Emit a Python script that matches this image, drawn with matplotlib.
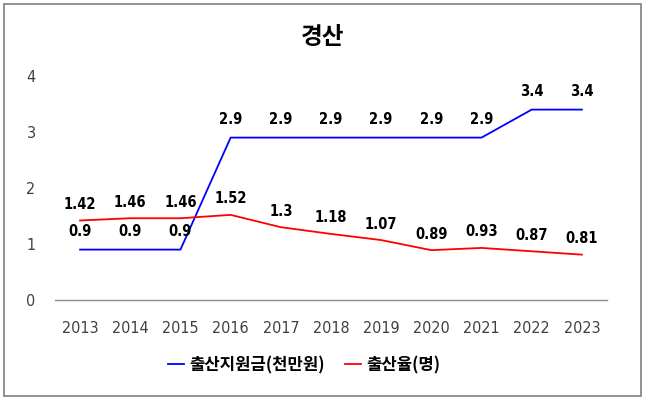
import matplotlib
matplotlib.use("Agg")
import matplotlib.pyplot as plt
from matplotlib.patches import Rectangle

years = ["2013", "2014", "2015", "2016", "2017", "2018", "2019", "2020", "2021", "2022", "2023"]
support = [0.9, 0.9, 0.9, 2.9, 2.9, 2.9, 2.9, 2.9, 2.9, 3.4, 3.4]
birth_rate = [1.42, 1.46, 1.46, 1.52, 1.3, 1.18, 1.07, 0.89, 0.93, 0.87, 0.81]
support_labels = ["0.9", "0.9", "0.9", "2.9", "2.9", "2.9", "2.9", "2.9", "2.9", "3.4", "3.4"]
birth_labels = ["1.42", "1.46", "1.46", "1.52", "1.3", "1.18", "1.07", "0.89", "0.93", "0.87", "0.81"]
series_names = ["출산지원금(천만원)", "출산율(명)"]
title = "경산"

plt.rcParams['font.family'] = ['Noto Sans CJK KR', 'DejaVu Sans']

fig = plt.figure(figsize=(6.48, 4.01), dpi=100)
ax = fig.add_axes([55/648, 1-300/401, (607-55)/648, (300-76)/401])

x = list(range(len(years)))
l1, = ax.plot(x, support, color="#0000FF", lw=1.3, label=series_names[0])
l2, = ax.plot(x, birth_rate, color="#FF0000", lw=1.3, label=series_names[1])

lab_font = dict(family=['DejaVu Sans'], stretch='condensed', fontsize=10.5, fontweight='bold', color='black')
for i, (v, s) in enumerate(zip(support, support_labels)):
    ax.annotate(s, (i, v), xytext=(0, 13), textcoords='offset points', ha='center', va='center', **lab_font)
for i, (v, s) in enumerate(zip(birth_rate, birth_labels)):
    ax.annotate(s, (i, v), xytext=(0, 11.5), textcoords='offset points', ha='center', va='center', **lab_font)

ax.set_xlim(-0.5, len(years) - 0.5)
ax.set_ylim(0, 4)
ax.set_yticks([0, 1, 2, 3, 4])
ax.set_xticks(x)
ax.set_xticklabels(years)
for s in ['top', 'right', 'left']:
    ax.spines[s].set_visible(False)
ax.spines['bottom'].set_color('#8c8c8c')
ax.spines['bottom'].set_linewidth(1.0)
ax.tick_params(axis='both', length=0, labelcolor='#404040')
ax.tick_params(axis='x', pad=15)
ax.tick_params(axis='y', pad=14)
for t in ax.get_xticklabels() + ax.get_yticklabels():
    t.set_family(['DejaVu Sans'])
    t.set_stretch('condensed')
    t.set_fontsize(11.5)

fig.text(323/648, 1-37/401, title, ha='center', va='center', fontsize=17, fontweight='bold')

leg = fig.legend(handles=[l1, l2], loc='center', bbox_to_anchor=(304/648, 1-365/401), ncol=2,
                 frameon=False, handlelength=1.0, handletextpad=0.3, columnspacing=1.2,
                 prop=dict(family=['Noto Sans CJK KR'], weight='bold', size=12))

fig.patches.append(Rectangle((4/648, 1-396/401), 637/648, 392/401, transform=fig.transFigure,
                             fill=False, edgecolor='#7f7f7f', lw=1.2))

fig.savefig("out.png", dpi=100)
